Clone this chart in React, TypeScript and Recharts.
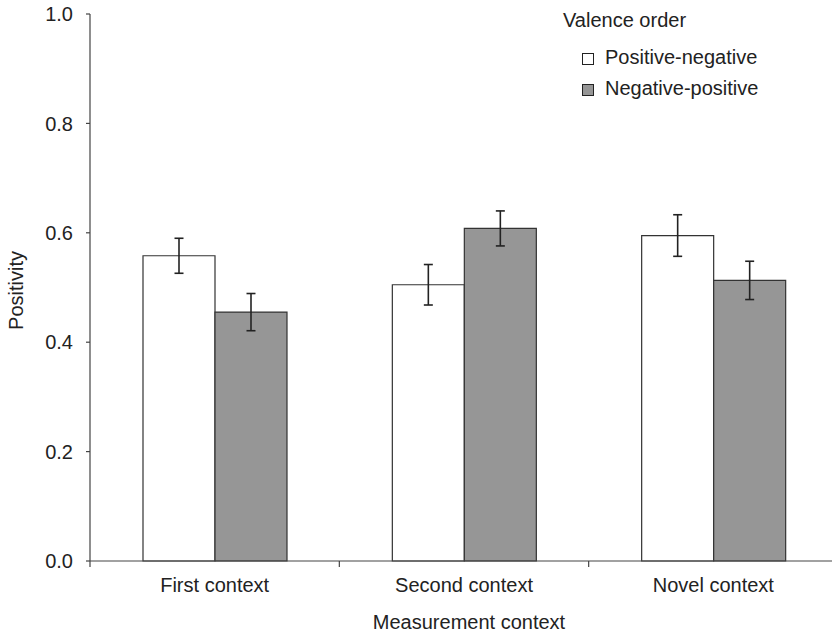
import { Bar, BarChart, ErrorBar, XAxis, YAxis } from "recharts";

const categories = ["First context", "Second context", "Novel context"];
const positiveNegative = [0.558, 0.505, 0.595];
const negativePositive = [0.455, 0.608, 0.513];
const positiveNegativeErr = [0.032, 0.037, 0.038];
const negativePositiveErr = [0.034, 0.032, 0.035];
const yTicks = [0, 0.2, 0.4, 0.6, 0.8, 1.0];

const seriesNames = ["Positive-negative", "Negative-positive"];
const seriesFills = ["#ffffff", "#969696"];

const data = categories.map((name, i) => ({
  name,
  posNeg: positiveNegative[i],
  negPos: negativePositive[i],
  posNegErr: positiveNegativeErr[i],
  negPosErr: negativePositiveErr[i],
}));

const font = "'Liberation Sans', Arial, sans-serif";
const ink = "#222";
const axisColor = "#444";
const fs = 20;

function CategoryTick(props: any) {
  const { x, y, payload } = props;
  const half = payload?.offset ?? 0;
  return (
    <g>
      <line x1={x - half} x2={x - half} y1={y} y2={y + 6} stroke={axisColor} strokeWidth={1.2} />
      <text x={x} y={y + 31} textAnchor="middle" fill={ink} fontSize={fs} fontFamily={font}>
        {payload.value}
      </text>
    </g>
  );
}

// legend drawn as plain html so it doesn't eat plot space
function LegendBox() {
  return (
    <div
      style={{
        position: "absolute",
        left: 563,
        top: 0,
        fontFamily: font,
        fontSize: fs,
        color: ink,
        lineHeight: "31px",
      }}
    >
      <div style={{ marginTop: 5 }}>Valence order</div>
      <div style={{ marginTop: 6, paddingLeft: 19 }}>
        {seriesNames.map((n, i) => (
          <div key={n} style={{ display: "flex", alignItems: "center" }}>
            <span
              style={{
                display: "inline-block",
                width: 10,
                height: 10,
                marginTop: 3,
                marginRight: 11,
                background: seriesFills[i],
                border: `1px solid ${ink}`,
              }}
            />
            {n}
          </div>
        ))}
      </div>
    </div>
  );
}

export default function App() {
  return (
    <div style={{ position: "absolute", left: 0, top: 0, width: 832, height: 635, overflow: "hidden", background: "#fff" }}>
      <BarChart
        width={840}
        height={635}
        data={data}
        margin={{ top: 14, right: 2, left: 0, bottom: 0 }}
        barCategoryGap={53}
        barGap={0}
      >
        <XAxis
          dataKey="name"
          height={74}
          tickSize={0}
          tickMargin={0}
          tickLine={false}
          axisLine={{ stroke: axisColor, strokeWidth: 1.2 }}
          tick={<CategoryTick />}
          interval={0}
          label={{
            value: "Measurement context",
            position: "insideBottom",
            offset: 6,
            dx: 5,
            fill: ink,
            fontSize: fs,
            fontFamily: font,
          }}
        />
        <YAxis
          width={90}
          domain={[0, 1]}
          ticks={yTicks}
          tickFormatter={(v: number) => v.toFixed(1)}
          tickSize={4}
          tickMargin={13}
          tickLine={{ stroke: axisColor, strokeWidth: 1.2 }}
          axisLine={{ stroke: axisColor, strokeWidth: 1.2 }}
          tick={{ fill: ink, fontSize: fs, fontFamily: font }}
          label={{
            value: "Positivity",
            angle: -90,
            position: "insideLeft",
            offset: 16,
            dy: 3,
            fill: ink,
            fontSize: fs,
            fontFamily: font,
            style: { textAnchor: "middle" },
          }}
        />
        <Bar dataKey="posNeg" name={seriesNames[0]} fill={seriesFills[0]} stroke="#333" strokeWidth={1.2} isAnimationActive={false}>
          <ErrorBar dataKey="posNegErr" width={4.5} stroke="#222" strokeWidth={1.6} />
        </Bar>
        <Bar dataKey="negPos" name={seriesNames[1]} fill={seriesFills[1]} stroke="#333" strokeWidth={1.2} isAnimationActive={false}>
          <ErrorBar dataKey="negPosErr" width={4.5} stroke="#222" strokeWidth={1.6} />
        </Bar>
      </BarChart>
      <LegendBox />
    </div>
  );
}
